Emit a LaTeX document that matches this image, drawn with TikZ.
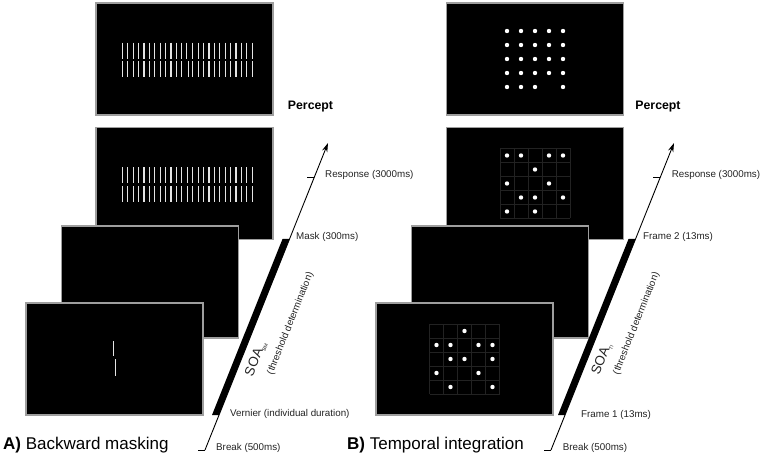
\documentclass[tikz,border=0pt]{standalone}
\usepackage{fontspec}
\setmainfont{Liberation Sans}
\usetikzlibrary{arrows.meta,calc}
\definecolor{scrgray}{RGB}{158,158,158}
\definecolor{linegray}{RGB}{228,228,228}
\definecolor{gridgray}{RGB}{34,34,34}
\definecolor{txtcol}{RGB}{35,35,35}
\begin{document}
\begin{tikzpicture}[x=1pt,y=-1pt,
  screen/.style={draw=scrgray, fill=black, line width=1.4pt, minimum width=177pt, minimum height=112pt, inner sep=0pt},
  vline/.style={draw=linegray, line width=1.15pt},
  dotw/.style={fill=white},
  gridl/.style={draw=gridgray, line width=0.45pt},
  axis/.style={draw=black, line width=0.9pt, -{Stealth[length=9pt,width=5.5pt]}},
  tickl/.style={draw=black, line width=0.9pt},
  bar/.style={fill=black},
  lbl/.style={anchor=west, inner sep=0pt, text=txtcol, font=\fontsize{9.8}{11}\selectfont},
  soalbl/.style={inner sep=0pt, text=txtcol, rotate=68.2, font=\fontsize{13.5}{15}\selectfont},
  thrlbl/.style={inner sep=0pt, text=txtcol, rotate=68.2, font=\fontsize{9.8}{11}\selectfont},
  perceptlbl/.style={inner sep=0pt, text=black, font=\fontsize{12.3}{14}\selectfont\bfseries},
  titlelbl/.style={anchor=west, inner sep=0pt, text=black, font=\fontsize{17}{19}\selectfont}
]
\useasboundingbox (0,0) rectangle (763,457);

% ---------------- Left panel: screens ----------------
\node[screen] (L1) at (184.5,59) {};
\node[screen] (L2) at (184.5,183.5) {};
\node[screen] (L3) at (150,282) {};
\node[screen] (L4) at (114.5,359) {};

% mask lines in percept screen (with vernier offset in the middle line)
\begin{scope}[shift={(L1.center)}]
  \foreach \i in {0,...,24}{
    \pgfmathsetmacro{\xx}{-62.2+5.417*\i}
    \ifnum\i=12
      \draw[vline] (\xx-0.8,-16.3) -- (\xx-0.8,-0.3);
      \draw[vline] (\xx+0.8,2.3) -- (\xx+0.8,18.3);
    \else
      \draw[vline] (\xx,-16.3) -- (\xx,-0.3);
      \draw[vline] (\xx,2.3) -- (\xx,18.3);
    \fi
  }
\end{scope}
% mask lines in response screen
\begin{scope}[shift={(L2.center)}]
  \foreach \i in {0,...,24}{
    \pgfmathsetmacro{\xx}{-62.2+5.417*\i}
    \draw[vline] (\xx,-16.3) -- (\xx,-0.3);
    \draw[vline] (\xx,2.3) -- (\xx,18.3);
  }
\end{scope}
% vernier
\begin{scope}[shift={(L4.center)}]
  \draw[vline] (-1,-18) -- (-1,-3);
  \draw[vline] (1,0) -- (1,17);
\end{scope}

% ---------------- Left panel: time axis ----------------
\coordinate (Lb) at (205,450);
\coordinate (Lt) at (328,143);
\coordinate (Lv) at (219,415);
\coordinate (Lm) at (289.5,239);
\coordinate (Lr) at (314.4,177);
\fill[bar] (Lv) -- (Lm) -- ++(-7,0) -- ($(Lv)+(-7,0)$) -- cycle;
\draw[axis] (Lb) -- (Lt);
\draw[tickl] (Lb) -- ++(-7,0);
\draw[tickl] (Lr) -- ++(-7,0);

\node[lbl] (Lresp) at (325,174.5) {Response (3000ms)};
\node[lbl] (Lmask) at (296,237) {Mask (300ms)};
\node[lbl] (Lvern) at (230,414) {Vernier (individual duration)};
\node[lbl] (Lbrk) at (216,448) {Break (500ms)};
\node[soalbl] (Lsoa) at (256,359) {SOA\raisebox{-0.35ex}{\fontsize{5}{5}\selectfont BM}};
\node[thrlbl] (Lthr) at (290.5,323.5) {(threshold determination)};
\node[perceptlbl] (Lperc) at (310.5,107) {Percept};
\node[titlelbl] (Ltitle) at (3,445) {\textbf{A)} Backward masking};

% ---------------- Right panel: screens ----------------
\node[screen] (R1) at (535,59) {};
\node[screen] (R2) at (535,183.5) {};
\node[screen] (R3) at (500,282) {};
\node[screen] (R4) at (464.5,359) {};

% percept dots
\begin{scope}[shift={(R1.center)}]
  \foreach \c/\r in {1/1,2/1,3/1,4/1,5/1,1/2,2/2,3/2,4/2,5/2,1/3,2/3,3/3,4/3,5/3,1/4,2/4,3/4,4/4,5/4,1/5,2/5,3/5,5/5}{
    \fill[dotw] ({(\c-3)*14},{(\r-3)*14}) circle[radius=2.2pt];
  }
\end{scope}
% frame 2 (response screen)
\begin{scope}[shift={(R2.center)}]
  \foreach \k in {0,...,5}{
    \draw[gridl] ({-35+14*\k},-35) -- ({-35+14*\k},35);
    \draw[gridl] (-35,{-35+14*\k}) -- (35,{-35+14*\k});
  }
  \foreach \c/\r in {1/1,2/1,4/1,5/1,3/2,1/3,4/3,2/4,3/4,5/4,1/5,3/5}{
    \fill[dotw] ({(\c-3)*14},{(\r-3)*14}) circle[radius=2.2pt];
  }
\end{scope}
% frame 1
\begin{scope}[shift={(R4.center)}]
  \foreach \k in {0,...,5}{
    \draw[gridl] ({-35+14*\k},-35) -- ({-35+14*\k},35);
    \draw[gridl] (-35,{-35+14*\k}) -- (35,{-35+14*\k});
  }
  \foreach \c/\r in {3/1,1/2,2/2,4/2,5/2,2/3,3/3,5/3,1/4,4/4,2/5,5/5}{
    \fill[dotw] ({(\c-3)*14},{(\r-3)*14}) circle[radius=2.2pt];
  }
\end{scope}

% ---------------- Right panel: time axis ----------------
\coordinate (Rb) at (551,450);
\coordinate (Rt) at (674,143);
\coordinate (Rv) at (565,415);
\coordinate (Rm) at (635.5,239);
\coordinate (Rr) at (660.4,177);
\fill[bar] (Rv) -- (Rm) -- ++(-7,0) -- ($(Rv)+(-7,0)$) -- cycle;
\draw[axis] (Rb) -- (Rt);
\draw[tickl] (Rb) -- ++(-7,0);
\draw[tickl] (Rr) -- ++(-7,0);

\node[lbl] (Rresp) at (671.7,174.5) {Response (3000ms)};
\node[lbl] (Rf2) at (643,237) {Frame 2 (13ms)};
\node[lbl] (Rf1) at (581,415) {Frame 1 (13ms)};
\node[lbl] (Rbrk) at (562.7,448) {Break (500ms)};
\node[soalbl] (Rsoa) at (602,359) {SOA\raisebox{-0.35ex}{\fontsize{5}{5}\selectfont TI}};
\node[thrlbl] (Rthr) at (636.5,323.5) {(threshold determination)};
\node[perceptlbl] (Rperc) at (658,107) {Percept};
\node[titlelbl] (Rtitle) at (347,445) {\textbf{B)} Temporal integration};
\end{tikzpicture}
\end{document}
